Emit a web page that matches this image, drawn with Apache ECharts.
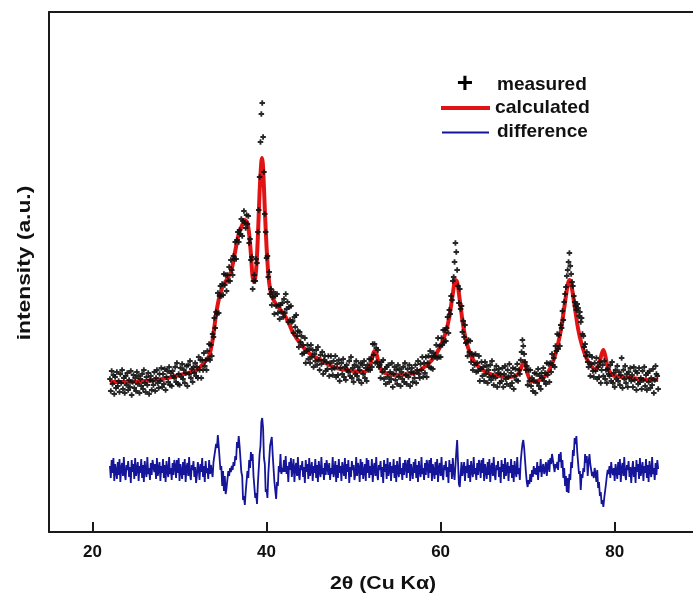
<!DOCTYPE html>
<html><head><meta charset="utf-8">
<script src="https://cdn.jsdelivr.net/npm/echarts@6/dist/echarts.min.js"></script>
<style>html,body{margin:0;padding:0;background:#fff}#c{width:693px;height:601px}</style>
</head><body><div id="c"></div>
<script>
// sampling grid of the measured pattern (2θ, degrees)
const scanStart = 22.0;
const scanStep = 0.1;
// measured intensity (a.u.), one value per scan step from 22.0 to 85.0
const measured = [
153,141,161,148,157,138,155,144,160,146,151,140,158,149,162,143,154,139,156,147,159,142,152,145,161,137,150,157,144,154,141,160,148,156,139,153,146,158,143,162,149,140,155,147,159,138,152,156,142,151,
147,160,141,154,162,149,144,158,151,164,145,158,148,163,142,155,161,150,165,147,159,146,161,156,154,165,150,169,148,158,147,164,155,168,153,162,149,159,166,146,167,158,171,154,163,150,165,159,169,156,
165,154,175,162,172,154,172,162,179,166,172,162,181,173,188,172,187,176,198,195,214,204,220,218,239,219,236,246,236,248,237,258,247,257,241,257,251,265,251,272,262,257,276,273,290,273,292,300,290,302,
298,313,296,311,321,309,304,317,308,316,289,293,272,275,243,251,257,251,273,269,300,322,355,390,418,429,395,360,318,300,274,276,255,260,238,243,227,235,240,218,236,226,238,219,227,213,227,220,229,215,
233,219,238,223,230,210,225,212,226,210,211,199,215,205,217,196,201,185,200,190,196,178,187,179,194,169,181,187,173,183,169,187,175,182,165,178,171,182,167,185,172,162,177,168,180,158,172,176,161,170,
163,176,156,169,176,163,157,171,164,176,155,168,157,172,151,164,169,158,173,155,165,152,167,162,160,171,156,175,154,164,150,167,158,171,156,165,152,162,169,149,167,158,171,154,164,151,167,162,173,162,
173,165,188,177,188,169,184,170,182,165,167,154,170,160,172,153,163,148,165,155,167,150,160,153,169,145,158,165,152,162,148,167,155,163,146,160,153,165,150,169,157,148,163,155,167,146,160,164,150,159,
154,167,149,162,171,158,154,168,162,175,155,169,159,175,155,169,176,165,181,164,175,163,179,176,175,187,174,194,175,186,175,194,187,202,190,202,191,204,215,199,222,218,236,232,251,255,270,289,280,262,
246,229,243,223,226,200,211,195,207,189,190,176,192,180,191,170,178,162,177,167,178,160,169,161,176,151,163,170,156,165,151,170,158,166,149,162,155,167,152,171,156,147,162,154,166,145,159,163,149,158,
151,164,145,158,166,153,148,162,155,168,146,159,149,164,143,156,163,152,168,151,162,158,172,180,192,186,178,170,162,166,147,162,151,162,146,154,141,151,159,139,158,149,163,146,156,143,159,154,164,151,
159,148,169,157,168,150,169,160,178,167,174,165,186,181,198,183,197,186,207,204,221,212,230,238,245,256,262,270,279,266,258,250,246,236,230,226,222,228,224,216,220,210,214,198,196,185,188,176,180,170,
165,177,156,168,175,161,155,169,161,174,153,165,155,170,149,162,167,156,171,153,162,149,163,158,156,167,151,170,149,159,145,162,153,166,151,160,147,157,174,144,162,153,166,149,158,145,160,154,164,151,
157,145,165,152,161,142,159,148,164,150,154,143,161,152,165,146,157,142,159,150,161,144,154,147,163,139,152,166,158,156,143
];
// difference curve (offset, a.u.), same scan steps
const difference = [
66,54,72,59,74,51,68,61,53,70,57,73,50,64,69,56,75,58,52,67,62,71,55,65,49,72,60,68,53,74,56,63,70,51,66,59,73,54,67,50,71,61,55,75,58,64,52,69,57,72,
72,60,68,53,74,56,63,70,51,66,59,73,54,67,50,71,61,55,75,58,64,52,69,57,72,66,54,72,59,74,51,68,61,53,70,57,73,50,64,69,56,75,58,52,67,62,71,55,65,49,
57,70,63,52,68,60,74,55,66,50,71,59,64,53,72,58,67,61,55,70,72,68,88,84,97,86,86,62,66,46,61,41,56,38,44,42,61,56,64,60,66,62,70,66,76,72,90,84,96,86,
88,60,56,32,36,27,40,39,61,54,72,64,80,71,78,56,56,34,39,28,48,49,78,86,110,114,104,74,68,40,43,34,58,60,86,86,95,78,76,50,52,33,50,46,66,60,78,58,64,60,
72,60,76,58,66,50,70,62,74,55,57,73,50,64,69,56,75,58,52,67,62,71,55,65,49,72,60,68,53,74,56,63,70,51,66,59,73,54,67,50,71,61,55,75,58,64,52,69,57,72,
72,57,69,52,64,58,75,55,61,71,50,67,54,73,59,66,51,70,63,56,74,53,68,60,72,49,65,55,71,62,67,52,58,75,56,69,64,50,73,57,70,53,61,68,51,74,59,72,54,66,
57,73,50,64,69,56,75,58,52,67,62,71,55,65,49,72,60,68,53,74,56,63,70,51,66,59,73,54,67,50,71,61,55,75,58,64,52,69,57,72,66,54,72,59,74,51,68,61,53,70,
59,73,54,67,50,71,61,55,75,58,64,52,69,57,72,66,54,72,59,74,51,68,61,53,70,57,73,50,64,69,56,75,58,52,67,62,71,55,65,49,72,60,68,53,74,60,52,66,80,92,
70,48,45,58,70,56,63,70,51,66,59,73,54,67,50,71,61,55,75,58,64,52,69,57,72,66,54,72,59,74,51,68,61,53,70,57,73,50,64,69,56,75,58,52,67,62,71,55,65,49,
72,60,68,53,74,56,63,70,51,66,59,73,54,67,50,71,61,55,75,58,64,52,70,80,88,92,84,72,60,50,45,52,48,58,50,62,55,66,58,64,57,70,52,66,60,73,55,64,68,58,
62,70,56,66,72,60,74,68,78,80,80,60,68,64,70,62,78,70,80,64,72,54,64,46,56,40,54,39,58,52,70,64,82,76,94,88,96,80,82,58,61,42,58,54,64,60,78,69,76,56,
70,78,68,62,56,60,54,64,58,50,62,44,50,36,40,28,32,25,34,36,48,56,62,58,66,54,70,61,57,64,51,68,61,53,70,57,73,50,64,69,56,75,58,52,67,62,71,55,65,49,
62,71,55,65,49,72,60,68,53,74,56,63,70,51,66,59,73,54,67,50,71,61,55,75,58,64,52,69,57,72,63
];
// calculated profile
const calcX = [22,24,26,28,30,31,32,33,33.4,33.6,33.8,34,34.2,34.4,34.6,34.8,35,35.4,35.8,36,36.4,36.8,37.2,37.5,37.8,38,38.2,38.4,38.6,38.8,39,39.2,39.4,39.5,39.6,39.8,40,40.2,40.4,40.6,41,41.6,42,42.6,43,44,45,46,47,48,50,51,51.6,52,52.2,52.4,52.6,52.8,53.2,53.6,55,57,58,59,60,60.6,61,61.4,61.7,61.9,62.2,62.6,63,63.6,64.4,65.2,66,68,68.8,69.2,69.4,69.6,69.8,70,70.4,71,72,72.6,73.2,73.8,74.2,74.6,74.8,75,75.4,75.8,76.2,76.8,77.4,77.8,78.2,78.5,78.7,78.9,79.2,79.6,80,82,84,85];
const calcY = [150,150,151,153,157,159,162,171,176,183,192,205,218,228,236,242,246,252,258,263,281,298,307,312,309,298,278,255,250,262,295,340,370,374,365,322,285,258,243,236,229,222,218,208,200,187,178,173,168,164,161,160,162,170,177,181,179,172,162,159,157,159,164,172,186,200,215,238,252,250,232,206,189,174,165,160,157,155,157,163,168,171,165,158,151,151,156,164,178,201,224,247,252,248,226,203,188,173,165,162,168,178,182,177,165,158,156,154,152,152];
const xTicks = [20, 40, 60, 80];

const scanX = measured.map((_, i) => +(scanStart + i * scanStep).toFixed(2));
const measPts = scanX.map((x, i) => [x, measured[i]]);
const diffPts = scanX.map((x, i) => [x, difference[i]]);
const calcPts = calcX.map((x, i) => [x, calcY[i]]);

const FONT = '"Liberation Sans", Arial, sans-serif';
const chart = echarts.init(document.getElementById('c'));
chart.setOption({
  animation: false,
  backgroundColor: '#fff',
  grid: { left: 49, right: 0, top: 12, bottom: 69, containLabel: false },
  xAxis: [{
    type: 'value', min: 15, max: 89, position: 'bottom',
    axisLine: { show: true, onZero: false, lineStyle: { color: '#1a1a1a', width: 2 } },
    axisTick: { show: true, inside: true, length: 10, customValues: xTicks, lineStyle: { color: '#1a1a1a', width: 2 } },
    axisLabel: { show: true, customValues: xTicks, margin: 12, color: '#111', fontFamily: FONT, fontWeight: 'bold', fontSize: 17 },
    splitLine: { show: false }
  }, {
    type: 'value', min: 15, max: 89, position: 'top',
    axisLine: { show: true, onZero: false, lineStyle: { color: '#1a1a1a', width: 2 } },
    axisTick: { show: false }, axisLabel: { show: false }, splitLine: { show: false }
  }],
  yAxis: {
    type: 'value', min: 0, max: 520,
    axisLine: { show: true, onZero: false, lineStyle: { color: '#1a1a1a', width: 2 } },
    axisTick: { show: false }, axisLabel: { show: false }, splitLine: { show: false }
  },
  series: [
    { name: 'calculated', type: 'line', data: calcPts, symbol: 'none', smooth: 0.3,
      lineStyle: { color: '#e01414', width: 4 }, z: 2 },
    { name: 'measured', type: 'scatter', data: measPts,
      symbol: 'path://M1,0H2V1H3V2H2V3H1V2H0V1H1Z', symbolSize: 5.5,
      itemStyle: { color: '#111', opacity: 0.9 }, z: 3 },
    { name: 'difference', type: 'line', data: diffPts, symbol: 'none',
      lineStyle: { color: '#15159a', width: 1.8 }, z: 2 }
  ],
  graphic: [
    { type: 'text', x: 25, y: 263, rotation: Math.PI / 2, scaleX: 1.2,
      style: { text: 'intensity (a.u.)', fill: '#111', font: 'bold 19px ' + FONT, textAlign: 'center', textVerticalAlign: 'middle' } },
    { type: 'text', x: 383, y: 584, scaleX: 1.12,
      style: { text: '2θ (Cu Kα)', fill: '#111', font: 'bold 19px ' + FONT, textAlign: 'center', textVerticalAlign: 'middle' } },
    { type: 'text', x: 465, y: 84,
      style: { text: '+', fill: '#000', font: 'bold 28px ' + FONT, textAlign: 'center', textVerticalAlign: 'middle' } },
    { type: 'line', shape: { x1: 441, y1: 108, x2: 490, y2: 108 }, style: { stroke: '#e01414', lineWidth: 4 } },
    { type: 'line', shape: { x1: 442, y1: 132.5, x2: 489, y2: 132.5 }, style: { stroke: '#15159a', lineWidth: 2 } },
    { type: 'text', x: 497, y: 85,
      style: { text: 'measured', fill: '#111', font: 'bold 19px ' + FONT, textVerticalAlign: 'middle' } },
    { type: 'text', x: 495, y: 108, scaleX: 1.02,
      style: { text: 'calculated', fill: '#111', font: 'bold 19px ' + FONT, textVerticalAlign: 'middle' } },
    { type: 'text', x: 497, y: 132,
      style: { text: 'difference', fill: '#111', font: 'bold 19px ' + FONT, textVerticalAlign: 'middle' } }
  ]
});
</script></body></html>
